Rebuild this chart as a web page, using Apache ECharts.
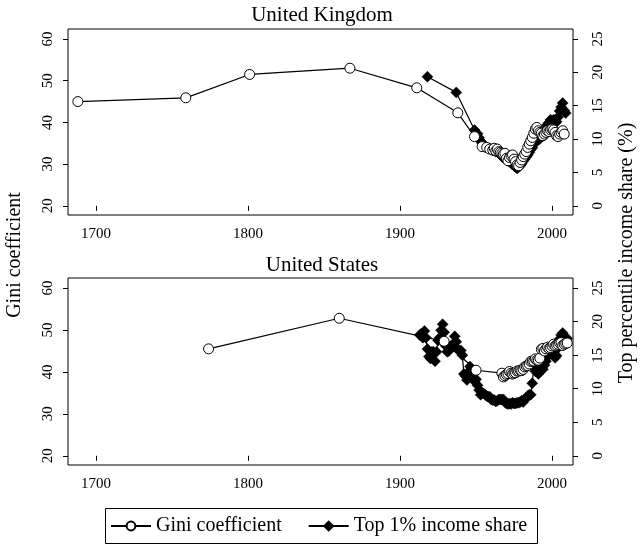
<!DOCTYPE html>
<html>
<head>
<meta charset="utf-8">
<script src="https://cdn.jsdelivr.net/npm/echarts@6/dist/echarts.min.js"></script>
<style>
  html, body { margin: 0; background: #fff; }
  #chart { width: 640px; height: 545px; }
</style>
</head>
<body>
<div id="chart"></div>
<script>
// year ticks and y-axis ticks
const yearTicks = [1700, 1800, 1900, 2000];
const giniTicks = [20, 30, 40, 50, 60];
const shareTicks = [0, 5, 10, 15, 20, 25];

// United Kingdom - Gini coefficient
const ukGiniYears = [1688, 1759, 1801, 1867, 1911, 1938, 1949, 1954, 1957, 1959,
  1961, 1962, 1963, 1964, 1965, 1966, 1967, 1968, 1969, 1970,
  1971, 1972, 1973, 1974, 1975, 1976, 1977, 1978, 1979, 1980,
  1981, 1982, 1983, 1984, 1985, 1986, 1987, 1988, 1989, 1990,
  1991, 1992, 1993, 1994, 1995, 1996, 1997, 1998, 1999, 2000,
  2001, 2002, 2003, 2004, 2005, 2006, 2007, 2008];
const ukGini = [45.0, 45.9, 51.5, 53.0, 48.3, 42.3, 36.6, 34.2, 34.0, 33.6,
  33.4, 33.8, 33.2, 33.6, 33.0, 32.8, 32.6, 32.4, 32.6, 31.4,
  30.8, 31.6, 32.0, 32.2, 31.2, 30.6, 29.8, 29.6, 30.4, 31.0,
  31.8, 32.4, 33.0, 34.0, 34.8, 35.6, 36.4, 37.4, 38.4, 38.8,
  38.0, 37.6, 37.4, 36.8, 37.2, 37.6, 38.0, 37.8, 38.2, 38.4,
  38.2, 37.6, 36.8, 36.6, 37.2, 37.6, 38.0, 37.2];

// United Kingdom - top 1% income share
const ukTopYears = [1918, 1937, 1949, 1951, 1952, 1953, 1954, 1955, 1956, 1957,
  1958, 1959, 1960, 1961, 1962, 1963, 1964, 1965, 1966, 1967,
  1968, 1969, 1970, 1971, 1972, 1973, 1974, 1975, 1976, 1977,
  1978, 1979, 1980, 1981, 1982, 1983, 1984, 1985, 1986, 1987,
  1988, 1989, 1990, 1991, 1992, 1993, 1994, 1995, 1996, 1997,
  1998, 1999, 2000, 2001, 2002, 2003, 2004, 2005, 2006, 2007,
  2008, 2009];
const ukTop = [19.35, 17.0, 11.35, 10.8, 10.2, 9.7, 9.4, 9.0, 8.8, 8.8,
  8.6, 8.6, 8.5, 8.3, 8.3, 8.1, 8.2, 8.1, 7.7, 7.4,
  7.2, 7.1, 7.0, 6.8, 6.6, 6.5, 6.2, 6.0, 5.8, 5.6,
  5.8, 6.0, 6.3, 6.7, 7.0, 7.3, 7.6, 8.0, 8.4, 8.7,
  9.2, 9.6, 9.9, 10.3, 10.0, 10.4, 10.8, 10.9, 11.8, 12.2,
  12.5, 12.9, 12.7, 12.9, 12.4, 12.6, 13.3, 14.2, 14.8, 15.4,
  14.3, 13.9];

// United States - Gini coefficient
const usGiniYears = [1774, 1860, 1929, 1950,
  1967, 1968, 1969, 1970, 1971, 1972, 1973, 1974, 1975, 1976,
  1977, 1978, 1979, 1980, 1981, 1982, 1983, 1984, 1985, 1986,
  1987, 1988, 1989, 1990, 1991, 1992, 1993, 1994, 1995, 1996,
  1997, 1998, 1999, 2000, 2001, 2002, 2003, 2004, 2005, 2006,
  2007, 2008, 2009, 2010];
const usGini = [45.5, 52.8, 47.3, 40.4,
  39.7, 38.8, 39.1, 39.4, 39.6, 40.1, 39.7, 39.5, 39.7, 39.8,
  40.2, 40.2, 40.4, 40.3, 40.6, 41.2, 41.4, 41.5, 41.9, 42.5,
  42.6, 42.6, 43.1, 42.8, 42.8, 43.3, 45.4, 45.6, 45.0, 45.5,
  45.9, 45.6, 45.8, 46.2, 46.6, 46.2, 46.4, 46.6, 46.9, 47.0,
  46.3, 46.6, 46.8, 46.9];

// United States - top 1% income share
const usTopYears = [1913, 1914, 1915, 1916, 1917, 1918, 1919, 1920, 1921, 1922,
  1923, 1924, 1925, 1926, 1927, 1928, 1929, 1930, 1931, 1932,
  1933, 1934, 1935, 1936, 1937, 1938, 1939, 1940, 1941, 1942,
  1943, 1944, 1945, 1946, 1947, 1948, 1949, 1950, 1951, 1952,
  1953, 1954, 1955, 1956, 1957, 1958, 1959, 1960, 1961, 1962,
  1963, 1964, 1965, 1966, 1967, 1968, 1969, 1970, 1971, 1972,
  1973, 1974, 1975, 1976, 1977, 1978, 1979, 1980, 1981, 1982,
  1983, 1984, 1985, 1986, 1987, 1988, 1989, 1990, 1991, 1992,
  1993, 1994, 1995, 1996, 1997, 1998, 1999, 2000, 2001, 2002,
  2003, 2004, 2005, 2006, 2007, 2008, 2009, 2010];
const usTop = [18.0, 18.2, 17.6, 18.6, 17.6, 15.9, 14.8, 14.5, 15.5, 15.5,
  14.1, 15.5, 17.2, 17.6, 18.7, 19.6, 18.4, 16.4, 15.5, 15.6,
  16.3, 16.2, 16.7, 17.8, 17.0, 15.8, 15.7, 15.7, 15.0, 12.2,
  11.9, 11.3, 12.5, 13.3, 12.1, 12.2, 11.1, 11.4, 10.5, 9.8,
  9.1, 9.4, 9.3, 9.1, 8.9, 8.8, 8.8, 8.4, 8.3, 8.3,
  8.1, 8.2, 8.4, 8.4, 8.4, 8.4, 8.0, 7.8, 7.7, 7.8,
  7.7, 7.9, 7.8, 7.8, 7.9, 7.9, 8.0, 8.2, 8.0, 8.4,
  8.6, 8.9, 9.1, 9.1, 10.8, 13.2, 12.6, 13.0, 12.2, 13.5,
  12.8, 12.9, 13.5, 14.1, 14.8, 15.3, 16.1, 16.5, 15.4, 14.6,
  14.9, 16.1, 17.4, 18.0, 18.3, 17.7, 16.7, 17.5];

const zip = (xs, ys) => xs.map((x, i) => [x, ys[i]]);

const FONT = '"Liberation Serif", "Times New Roman", serif';
const GRID_L = 68, GRID_R = 67;
const grids = [{top: 29, height: 186}, {top: 278, height: 187}];

function xAxisFor(gridIndex) {
  return {
    type: 'value', gridIndex, min: 1681.5, max: 2013.8,
    axisLine: {show: false},
    splitLine: {show: false},
    axisTick: {show: true, length: 5, customValues: yearTicks, lineStyle: {color: '#000'}},
    axisLabel: {customValues: yearTicks, formatter: v => String(v), margin: 12,
      color: '#000', fontSize: 15, fontFamily: FONT}
  };
}

function yAxisFor(gridIndex, right) {
  const ticks = right ? shareTicks : giniTicks;
  return {
    type: 'value', gridIndex, position: right ? 'right' : 'left',
    min: right ? -1.375 : 17.8, max: right ? 26.5 : 62.4,
    axisLine: {show: false},
    splitLine: {show: false},
    axisTick: {show: true, length: 5, customValues: ticks, lineStyle: {color: '#000'}},
    axisLabel: {customValues: ticks, rotate: 90, margin: right ? 18 : 12,
      color: '#000', fontSize: 15, fontFamily: FONT}
  };
}

function giniSeries(name, axis, data) {
  return {
    name, type: 'line', xAxisIndex: axis, yAxisIndex: axis * 2, data, z: 3,
    symbol: 'circle', symbolSize: 10,
    lineStyle: {color: '#000', width: 1.2},
    itemStyle: {color: '#fff', borderColor: '#000', borderWidth: 1}
  };
}

function topSeries(name, axis, data) {
  return {
    name, type: 'line', xAxisIndex: axis, yAxisIndex: axis * 2 + 1, data, z: 2,
    symbol: 'diamond', symbolSize: 11,
    lineStyle: {color: '#000', width: 1.2},
    itemStyle: {color: '#000', borderColor: '#000', borderWidth: 0.5}
  };
}

const chart = echarts.init(document.getElementById('chart'));
chart.setOption({
  animation: false,
  backgroundColor: '#fff',
  grid: grids.map(g => ({left: GRID_L, right: GRID_R, top: g.top, height: g.height,
    show: true, borderColor: '#000', borderWidth: 1, backgroundColor: 'transparent'})),
  xAxis: [xAxisFor(0), xAxisFor(1)],
  yAxis: [yAxisFor(0, false), yAxisFor(0, true), yAxisFor(1, false), yAxisFor(1, true)],
  legend: {
    left: 110, top: 516, itemGap: 26, itemWidth: 40, itemHeight: 11, padding: 0,
    data: ['Gini coefficient', 'Top 1% income share'],
    textStyle: {color: '#000', fontSize: 20, fontFamily: FONT}
  },
  series: [
    topSeries('Top 1% income share', 0, zip(ukTopYears, ukTop)),
    giniSeries('Gini coefficient', 0, zip(ukGiniYears, ukGini)),
    topSeries('Top 1% income share', 1, zip(usTopYears, usTop)),
    giniSeries('Gini coefficient', 1, zip(usGiniYears, usGini))
  ],
  graphic: [
    {type: 'text', x: 322, y: 15, style: {text: 'United Kingdom', align: 'center', verticalAlign: 'middle', font: '21px ' + FONT, fill: '#000'}},
    {type: 'text', x: 322, y: 265, style: {text: 'United States', align: 'center', verticalAlign: 'middle', font: '21px ' + FONT, fill: '#000'}},
    {type: 'text', x: 15, y: 255, rotation: Math.PI / 2, style: {text: 'Gini coefficient', align: 'center', verticalAlign: 'middle', font: '20px ' + FONT, fill: '#000'}},
    {type: 'text', x: 627, y: 253, rotation: Math.PI / 2, style: {text: 'Top percentile income share (%)', align: 'center', verticalAlign: 'middle', font: '20px ' + FONT, fill: '#000'}},
    {type: 'rect', shape: {x: 105.5, y: 508.5, width: 432, height: 35}, style: {fill: 'none', stroke: '#000', lineWidth: 1}}
  ]
});
</script>
</body>
</html>
